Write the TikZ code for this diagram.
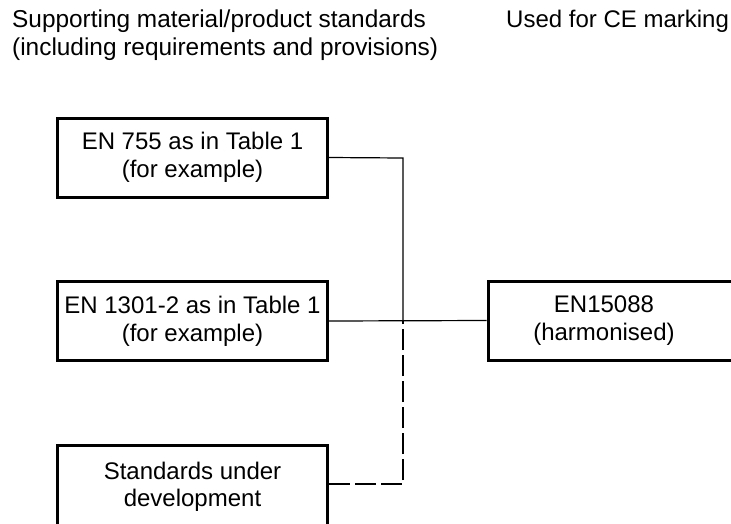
\documentclass[tikz,border=0pt]{standalone}
\usepackage{fontspec}
\setmainfont{Liberation Sans}
\begin{document}
\begin{tikzpicture}[x=1pt,y=-1pt,
  txt/.style={font=\fontsize{24}{28}\selectfont},
  box/.style={draw,line width=3pt,minimum width=270pt,minimum height=79pt,inner sep=0pt,align=center,txt},
  hd/.style={anchor=base west,inner sep=0pt,font=\fontsize{24.4}{28}\selectfont},
  conn/.style={line width=1.2pt},
  dconn/.style={conn,dash pattern=on 21pt off 5pt}]
\useasboundingbox (0,0) rectangle (731,523);
\clip (0,0) rectangle (731,523);
% headers
\node[hd] (h1) at (12,27.7) {Supporting material/product standards};
\node[hd] (h2) at (12,55) {(including requirements and provisions)};
\node[hd,txt] (h3) at (506,27.7) {Used for CE marking};
% boxes
\node[box] (b1) at (192.5,157.5) {EN 755 as in Table 1\\(for example)};
\node[box] (b2) at (192.5,321) {EN 1301-2 as in Table 1\\(for example)};
\node[box,minimum height=83pt] (b3) at (192.5,487) {Standards under\\[-1pt]development};
\node[box,anchor=west] (ce) at (486.5,320.5) {};
\node[align=center,inner sep=0pt,txt] (cet) at (604,321) {EN15088\\(harmonised)};
% junctions
\coordinate (j1) at (403,158);
\coordinate (j2) at (403,321);
\coordinate (j3) at (403,484);
% connectors
\draw[conn] (b1.east) -- (j1) -- (j2);
\draw[conn] (b2.east) -- (ce.west);
\draw[dconn] (b3.east |- j3) -- (j3) -- (j2);
\end{tikzpicture}
\end{document}
